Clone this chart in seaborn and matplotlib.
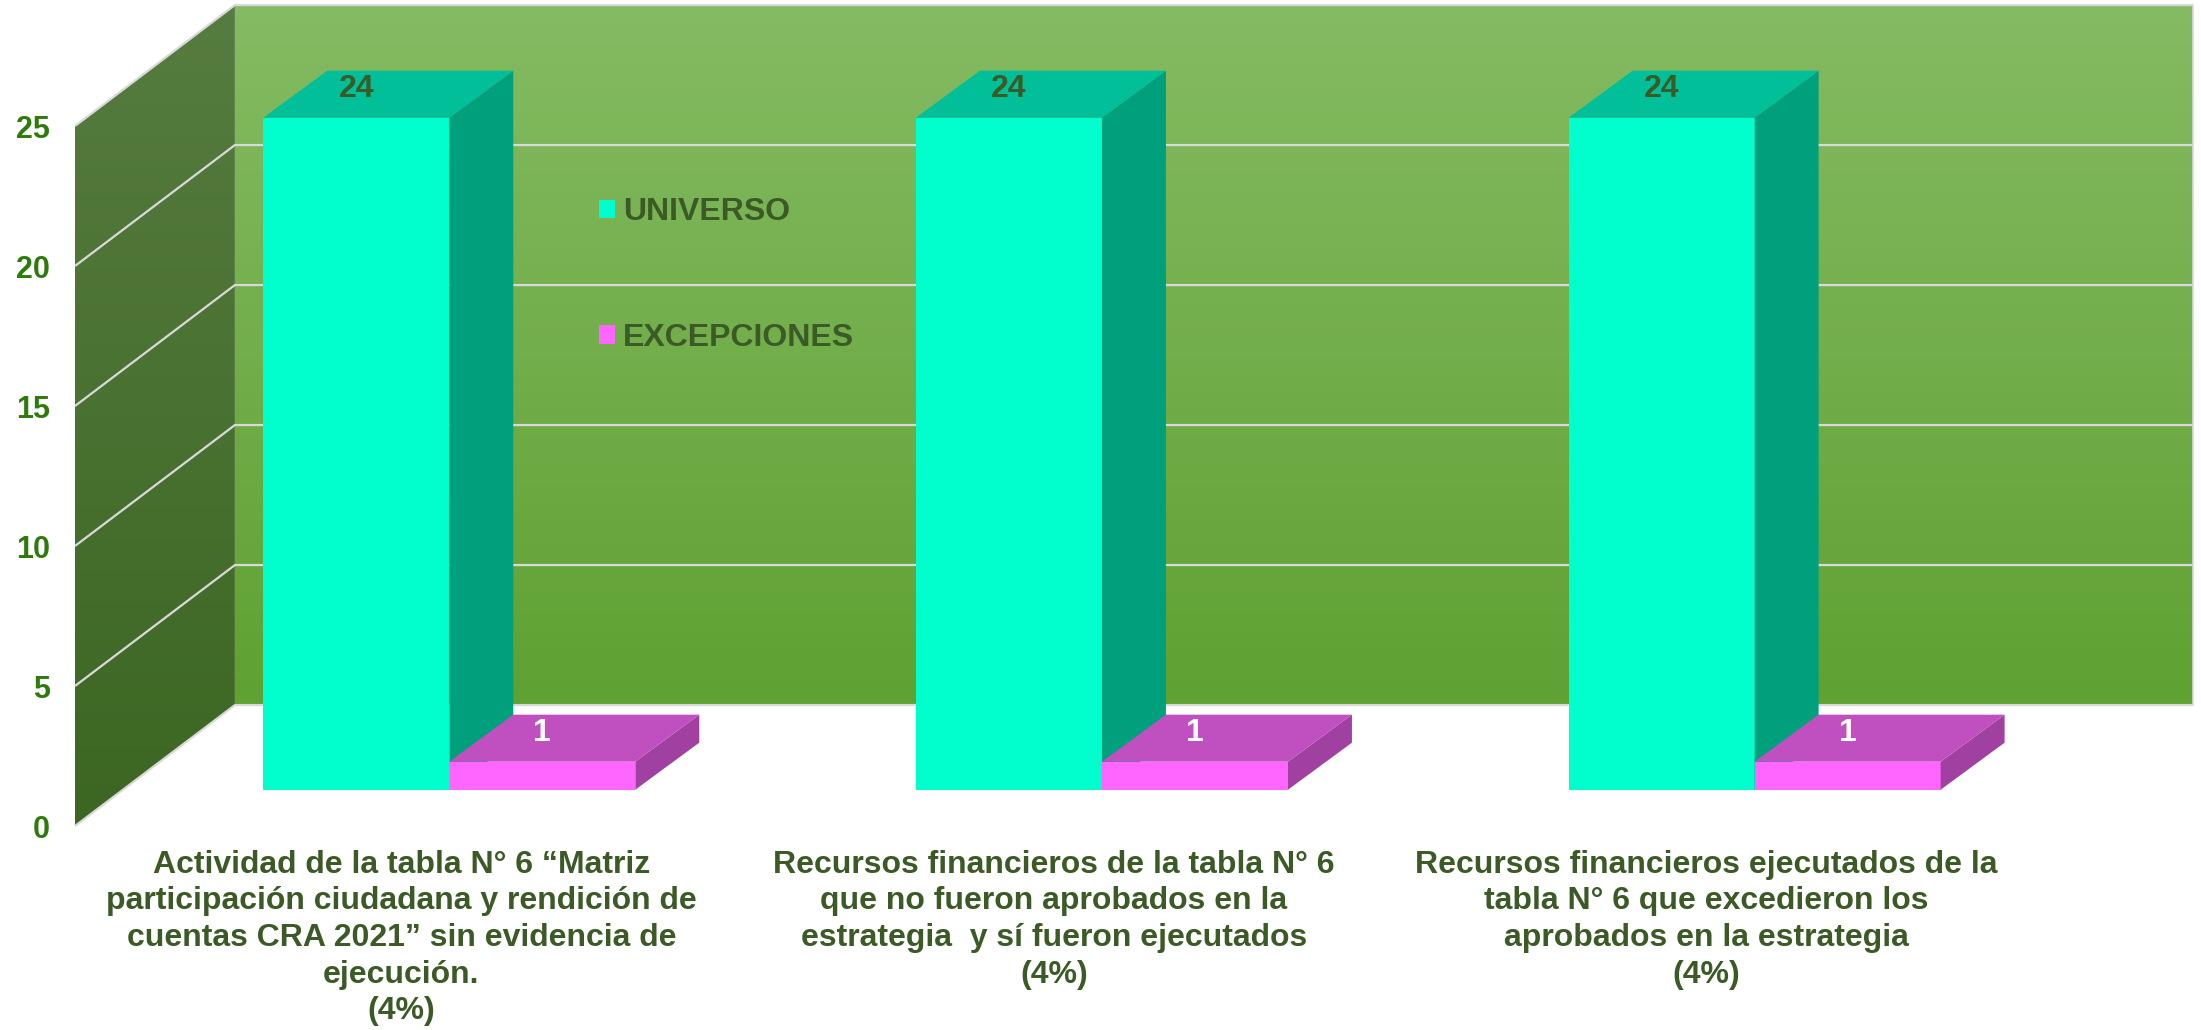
import numpy as np
import pandas as pd
import seaborn as sns
import matplotlib.pyplot as plt
from matplotlib.patches import Polygon
from matplotlib.colors import LinearSegmentedColormap

# datos del grafico
categorias = [
    "Actividad de la tabla N° 6 \u201cMatriz\nparticipación ciudadana y rendición de\ncuentas CRA 2021\u201d sin evidencia de\nejecución.\n(4%)",
    "Recursos financieros de la tabla N° 6\nque no fueron aprobados en la\nestrategia  y sí fueron ejecutados\n(4%)",
    "Recursos financieros ejecutados de la\ntabla N° 6 que excedieron los\naprobados en la estrategia\n(4%)",
]
series = ["UNIVERSO", "EXCEPCIONES"]
universo = [24, 24, 24]
excepciones = [1, 1, 1]
y_ticks = [0, 5, 10, 15, 20, 25]

# colores (frente, tapa, lado)
col_frente = {"UNIVERSO": "#00FFCC", "EXCEPCIONES": "#FF66FF"}
col_tapa = {"UNIVERSO": "#00BF99", "EXCEPCIONES": "#C050C0"}
col_lado = {"UNIVERSO": "#00A07D", "EXCEPCIONES": "#A040A0"}
verde_texto = "#3B5A25"
verde_eje = "#2E7B0B"

# profundidad del efecto 3D (unidades de datos)
DX, DY = 0.245, 4.32
F1, BDX, BDY = 0.30, 0.098, 1.68

df = pd.DataFrame({
    "categoria": categorias * 2,
    "serie": [series[0]] * 3 + [series[1]] * 3,
    "valor": universo + excepciones,
})

sns.set_theme(style="white")
plt.rcParams["font.family"] = ["Liberation Sans", "DejaVu Sans"]

fig = plt.figure(figsize=(22.01, 10.30), dpi=100, facecolor="white")
ax = fig.add_axes([75 / 2201, 204 / 1030, 1958 / 2201, 700 / 1030])
ax.set_facecolor("none")

sns.barplot(data=df, x="categoria", y="valor", hue="serie", palette=col_frente,
            width=0.57, saturation=1, ax=ax, linewidth=0, edgecolor="none")


def pared(verts, c_arriba, c_abajo):
    poly = Polygon(verts, closed=True, facecolor="none", edgecolor="none",
                   transform=ax.transData)
    xs = [v[0] for v in verts]
    ys = [v[1] for v in verts]
    cmap = LinearSegmentedColormap.from_list("g", [c_abajo, c_arriba])
    grad = np.linspace(0, 1, 256).reshape(-1, 1)
    im = ax.imshow(grad, cmap=cmap, origin="lower", aspect="auto", zorder=0,
                   extent=(min(xs), max(xs), min(ys), max(ys)),
                   interpolation="bilinear")
    im.set_clip_path(poly)
    im.set_clip_box(fig.bbox)


x0, x1 = -0.5, 2.5
y_top = y_ticks[-1]
# pared izquierda y pared de fondo
pared([(x0, 0), (x0, y_top), (x0 + DX, y_top + DY), (x0 + DX, DY)], "#567C40", "#3C6622")
pared([(x0 + DX, DY), (x0 + DX, y_top + DY), (x1 + DX, y_top + DY), (x1 + DX, DY)],
      "#85BB63", "#5FA132")

# lineas de cuadricula
for v in y_ticks:
    ax.plot([x0, x0 + DX, x1 + DX], [v, v + DY, v + DY], color="#D9D9D9", lw=1.6,
            zorder=1, clip_on=False, solid_capstyle="butt")
ax.plot([x1 + DX, x1 + DX], [DY, y_top + DY], color="#D9D9D9", lw=1.2, zorder=1, clip_on=False)

# caras 3D de las barras
sx, sy = F1 * DX, F1 * DY
for s, (cont, serie) in enumerate(zip(ax.containers, series)):
    for j, bar in enumerate(cont):
        z = 3 + j + 0.5 * s
        bx, w, h = bar.get_x(), bar.get_width(), bar.get_height()
        bar.set_x(bx + sx)
        bar.set_y(sy)
        bar.set_zorder(z)
        bar.set_clip_on(False)
        a, b = bx + sx, bx + sx + w
        lado = Polygon([(b, sy), (b, sy + h), (b + BDX, sy + h + BDY), (b + BDX, sy + BDY)],
                       facecolor=col_lado[serie], edgecolor="none", zorder=z, clip_on=False)
        tapa = Polygon([(a, sy + h), (b, sy + h), (b + BDX, sy + h + BDY), (a + BDX, sy + h + BDY)],
                       facecolor=col_tapa[serie], edgecolor="none", zorder=z, clip_on=False)
        ax.add_patch(lado)
        ax.add_patch(tapa)
        ax.text(a + w / 2, sy + h + 0.62 * BDY, f"{h:g}", ha="center", va="center",
                fontsize=23, fontweight="bold", zorder=20, clip_on=False,
                color=verde_texto if serie == "UNIVERSO" else "white")

ax.set_xlim(x0, x1)
ax.set_ylim(0, y_top)
ax.set_xlabel("")
ax.set_ylabel("")
for sp in ax.spines.values():
    sp.set_visible(False)
ax.grid(False)

ax.set_yticks(y_ticks)
ax.set_yticklabels([str(v) for v in y_ticks], fontsize=22, fontweight="bold", color=verde_eje)
ax.tick_params(axis="y", length=0, pad=18)
ax.set_xticks(range(len(categorias)))
ax.set_xticklabels(categorias, fontsize=23, fontweight="bold", color=verde_texto,
                   linespacing=1.29)
ax.tick_params(axis="x", length=0, pad=17)

sns.move_legend(ax, loc="center left", bbox_to_anchor=(599 / 2201, 1 - 275 / 1030),
                bbox_transform=fig.transFigure, frameon=False, title=None,
                prop={"weight": "bold", "size": 23}, labelcolor=verde_texto,
                handlelength=0.5, handleheight=0.5, handletextpad=0.25,
                labelspacing=3.0, borderpad=0, borderaxespad=0)

fig.savefig("out.png", dpi=100, facecolor="white")
